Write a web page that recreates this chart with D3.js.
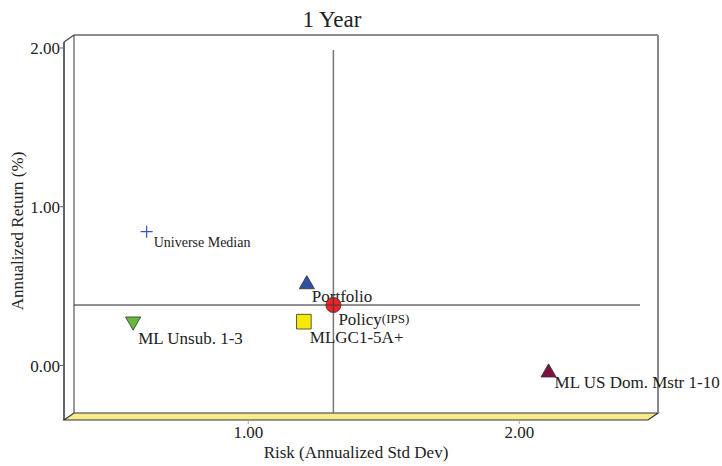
<!DOCTYPE html>
<html><head><meta charset="utf-8">
<script src="https://cdn.jsdelivr.net/npm/d3@7"></script>
<style>body{margin:0;background:#fff}svg{display:block}text{font-family:"Liberation Serif","Times New Roman",serif;fill:#222}</style>
</head><body><svg id="c" width="722" height="466"></svg>
<script>
const title = "1 Year";
const xTitle = "Risk (Annualized Std Dev)";
const yTitle = "Annualized Return (%)";
const xTicks = [1.00, 2.00];
const yTicks = [0.00, 1.00, 2.00];
const names = ["Universe Median","Portfolio","Policy","MLGC1-5A+","ML Unsub. 1-3","ML US Dom. Mstr 1-10"];
const risk   = [0.625, 1.216, 1.314, 1.205, 0.575, 2.108];
const ret    = [0.843, 0.511, 0.381, 0.276, 0.278, -0.045];
const shapes = ["cross","triangle","circle","square","down","triangle"];
const colors = ["#3355bb","#2f4f9f","#e8232a","#f7ea00","#66b83a","#7d1142"];
const crossIndex = 2; // crosshair drawn at Policy (IPS)

const svg = d3.select("#c");
const depth = {dx:10, dy:-7};
const x = d3.scaleLinear().domain([1,2]).range([248.3,519.3]);
const y = d3.scaleLinear().domain([0,2]).range([365.5,48]);
const xDom = [x.invert(64), x.invert(648)];
const yDom = [y.invert(420), y.invert(42)];

const fx0 = x(xDom[0]), fx1 = x(xDom[1]), fy0 = y(yDom[0]), fy1 = y(yDom[1]);
const bx0 = fx0+depth.dx, bx1 = fx1+depth.dx, by0 = fy0+depth.dy, by1 = fy1+depth.dy;

// floor
svg.append("path").attr("d",`M${fx0},${fy0}L${bx0},${by0}L${bx1},${by0}L${fx1},${fy0}Z`)
  .attr("fill","#f7ec8c").attr("stroke","#333").attr("stroke-width",1.2);
// back wall
svg.append("line").attr("x1",bx0).attr("y1",by1).attr("x2",bx1).attr("y2",by1).attr("stroke","#666").attr("stroke-width",1.5);
svg.append("line").attr("x1",bx1).attr("y1",by1).attr("x2",bx1).attr("y2",by0).attr("stroke","#888").attr("stroke-width",2);
svg.append("line").attr("x1",bx0).attr("y1",by1).attr("x2",bx0).attr("y2",by0).attr("stroke","#555").attr("stroke-width",1.2);
// left wall
svg.append("line").attr("x1",fx0).attr("y1",fy1).attr("x2",bx0).attr("y2",by1).attr("stroke","#444").attr("stroke-width",1.2);
svg.append("line").attr("x1",fx0).attr("y1",fy1).attr("x2",fx0).attr("y2",fy0).attr("stroke","#333").attr("stroke-width",1.5);

// y ticks
const yt = svg.append("g");
yTicks.forEach(v=>{
  yt.append("line").attr("x1",fx0-4).attr("x2",fx0).attr("y1",y(v)).attr("y2",y(v)).attr("stroke","#666");
  yt.append("text").attr("x",fx0-4).attr("y",y(v)+6).attr("text-anchor","end").attr("font-size",17).text(v.toFixed(2));
});
// x ticks
xTicks.forEach(v=>{
  svg.append("line").attr("x1",x(v)).attr("x2",x(v)).attr("y1",fy0).attr("y2",fy0+4).attr("stroke","#aaa");
  svg.append("text").attr("x",x(v)).attr("y",438).attr("text-anchor","middle").attr("font-size",17).text(v.toFixed(2));
});

// crosshair
const cx = x(risk[crossIndex]), cy = y(ret[crossIndex]);
svg.append("line").attr("x1",cx).attr("x2",cx).attr("y1",50).attr("y2",by0).attr("stroke","#777").attr("stroke-width",1.5);
svg.append("line").attr("x1",bx0).attr("x2",640).attr("y1",cy).attr("y2",cy).attr("stroke","#222").attr("stroke-width",1);

// titles
svg.append("text").attr("x",332).attr("y",27).attr("text-anchor","middle").attr("font-size",23).text(title);
svg.append("text").attr("x",356).attr("y",458).attr("text-anchor","middle").attr("font-size",17).text(xTitle);
svg.append("text").attr("transform","translate(23,231) rotate(-90)").attr("text-anchor","middle").attr("font-size",17).text(yTitle);

// markers
const symMap = {triangle:d3.symbolTriangle, circle:d3.symbolCircle, square:d3.symbolSquare, down:d3.symbolTriangle};
const sizes = {triangle:100, circle:180, square:215, down:100};
const labelOff = [[7,15],[5,18],[5,20],[6,21],[5,23],[6,15]];
names.forEach((n,i)=>{
  const px = x(risk[i]), py = y(ret[i]);
  const s = shapes[i];
  if (s==="cross") {
    svg.append("path").attr("d",`M${px-6},${py}H${px+6}M${px},${py-6}V${py+6}`).attr("stroke",colors[i]).attr("stroke-width",1.2);
  } else {
    svg.append("path").attr("d",d3.symbol(symMap[s],sizes[s])())
      .attr("transform",`translate(${px},${py})${s==="down"?" rotate(180)":""}`)
      .attr("fill",colors[i]).attr("stroke","#333").attr("stroke-width",0.8);
    if (s==="circle") {
      svg.append("path").attr("d",`M${px-7},${py}H${px+7}M${px},${py-7}V${py+7}`).attr("stroke","#333").attr("stroke-width",0.8);
    }
  }
  const t = svg.append("text").attr("x",px+labelOff[i][0]).attr("y",py+labelOff[i][1])
    .attr("font-size", i===0?14:17);
  if (n==="Policy") {
    t.append("tspan").text("Policy");
    t.append("tspan").attr("font-size",13).attr("dy",-2).text("(IPS)");
  } else t.text(n);
});
</script></body></html>
